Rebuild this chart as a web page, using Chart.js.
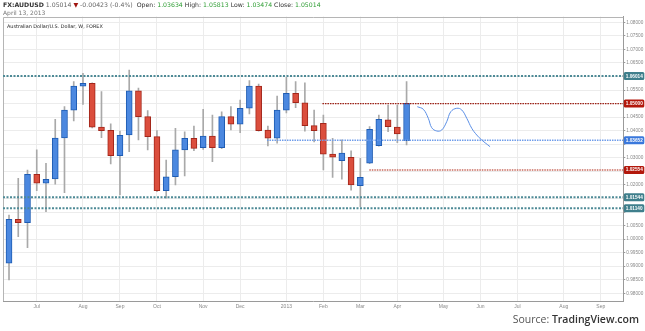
<!DOCTYPE html>
<html>
<head>
<meta charset="utf-8">
<script src="https://cdn.jsdelivr.net/npm/chart.js@4.4.0/dist/chart.umd.min.js"></script>
<style>
  body { margin: 0; background: #fff; overflow: hidden; }
  #wrap { position: relative; width: 645px; height: 331px; }
  #chart { position: absolute; left: 0; top: 0; }
  .txt { position: absolute; white-space: nowrap; font-family: 'DejaVu Sans', sans-serif; }
  #hdr { left: 3px; top: 1px; font-size: 6.2px; color: #666; }
  #hdr b { color: #333; }
  #hdr .g { color: #2f9e34; }
  #hdr .r { color: #a0150f; }
  #hdr .k { color: #333; }
  #date { left: 3px; top: 8.5px; font-size: 6px; color: #777; }
  #legend { left: 7px; top: 22.5px; font-size: 4.9px; color: #222; }
  #source { right: 6px; top: 312px; font-family: 'Open Sans', sans-serif; font-size: 10.5px; color: #555; }
  #source span { color: #333; font-weight: 600; }
</style>
</head>
<body>
<div id="wrap">
  <canvas id="chart" width="645" height="331"></canvas>
  <div class="txt" id="hdr"><b>FX:AUDUSD</b> 1.05014 <span class="r">▼</span> -0.00423 (-0.4%) &nbsp;<span class="k">Open:</span> <span class="g">1.03634</span> <span class="k">High:</span> <span class="g">1.05813</span> <span class="k">Low:</span> <span class="g">1.03474</span> <span class="k">Close:</span> <span class="g">1.05014</span></div>
  <div class="txt" id="date">April 13, 2013</div>
  <div class="txt" id="legend">Australian Dollar/U.S. Dollar, W, FOREX</div>
  <div class="txt" id="source">Source: <span>TradingView.com</span></div>
</div>
<script>
// weekly candles, week 0 = 11 Jun 2012, last = 8 Apr 2013
const opens  = [0.9911, 1.0073, 1.0061, 1.0239, 1.0206, 1.0222, 1.0373, 1.0476, 1.0564, 1.0575,
                1.0413, 1.0401, 1.0308, 1.0384, 1.0547, 1.0452, 1.0378, 1.0179, 1.0230, 1.0329,
                1.0372, 1.0337, 1.0380, 1.0337, 1.0452, 1.0424, 1.0483, 1.0565, 1.0402, 1.0372,
                1.0476, 1.0538, 1.0503, 1.0419, 1.0427, 1.0314, 1.0289, 1.0302, 1.0197, 1.0280,
                1.0345, 1.0440, 1.0413, 1.03634]
const highs  = [1.0089, 1.0224, 1.0255, 1.0329, 1.0280, 1.0442, 1.0489, 1.0581, 1.0612, 1.0577,
                1.0544, 1.0425, 1.0399, 1.0624, 1.0557, 1.0474, 1.0400, 1.0292, 1.0409, 1.0396,
                1.0417, 1.0479, 1.0458, 1.0470, 1.0489, 1.0513, 1.0585, 1.0572, 1.0417, 1.0528,
                1.0597, 1.0581, 1.0577, 1.0476, 1.0458, 1.0372, 1.0366, 1.0326, 1.0298, 1.0415,
                1.0458, 1.0495, 1.0495, 1.05813]
const lows   = [0.9849, 1.0009, 0.9968, 1.0179, 1.0101, 1.0203, 1.0171, 1.0436, 1.0497, 1.0410,
                1.0374, 1.0277, 1.0163, 1.0323, 1.0366, 1.0329, 1.0175, 1.0151, 1.0200, 1.0233,
                1.0326, 1.0331, 1.0286, 1.0334, 1.0403, 1.0393, 1.0462, 1.0398, 1.0344, 1.0354,
                1.0466, 1.0485, 1.0398, 1.0359, 1.0255, 1.0228, 1.0221, 1.0181, 1.0120, 1.0278,
                1.0343, 1.0396, 1.0356, 1.03474]
const closes = [1.0073, 1.0061, 1.0239, 1.0206, 1.0221, 1.0373, 1.0476, 1.0565, 1.0575, 1.0413,
                1.0400, 1.0308, 1.0383, 1.0547, 1.0452, 1.0378, 1.0179, 1.0230, 1.0329, 1.0372,
                1.0335, 1.0380, 1.0337, 1.0452, 1.0424, 1.0483, 1.0565, 1.0400, 1.0372, 1.0476,
                1.0538, 1.0503, 1.0419, 1.0400, 1.0313, 1.0302, 1.0317, 1.0200, 1.0228, 1.0405,
                1.0442, 1.0415, 1.0388, 1.05014]

// hand-drawn projection after the last candle
const projX = [44.16, 44.81, 45.35, 45.72, 46.26, 46.80, 47.34, 47.78, 48.42, 48.97, 49.51, 50.05, 50.59, 51.13, 52.03]
const projY = [1.04886, 1.0479, 1.04458, 1.04111, 1.03989, 1.04026, 1.04332, 1.04701, 1.04827, 1.04764,
               1.04458, 1.04089, 1.03841, 1.03657, 1.0341]

// horizontal levels and the week they start from
const levelValues = [1.06014, 1.05000, 1.03652, 1.02554, 1.01544, 1.01140]
const levelStarts = [-0.65, 33.9, 27.9, 38.97, -0.65, -0.65]
const levelColors = ['#4e8a96', '#9c1d12', '#6e9cea', '#c86a5e', '#4e8a96', '#4e8a96']
const levelBoxes  = ['#3f7f8c', '#b3180c', '#3a78dc', '#b3180c', '#3f7f8c', '#3f7f8c']
const levelWidths = [2, 1.3, 1.5, 1.5, 2, 2]
const levelDashes = [[2, 1.5], [1.5, 1], [1.5, 1], [1.5, 1], [2, 1.5], [2, 1.5]]

const monthTicks  = [3, 8, 12, 16, 21, 25, 30, 34, 38, 42, 47, 51, 55, 60, 64]
const monthLabels = ['Jul', 'Aug', 'Sep', 'Oct', 'Nov', 'Dec', '2013', 'Feb', 'Mar', 'Apr', 'May', 'Jun', 'Jul', 'Aug', 'Sep']
const yTicks = [0.980, 0.985, 0.990, 0.995, 1.000, 1.005, 1.010, 1.015, 1.020, 1.025, 1.030,
                1.035, 1.040, 1.045, 1.050, 1.055, 1.060, 1.065, 1.070, 1.075, 1.080]

const xMin = -0.65
const xMax = 66.44

const isUp = closes.map((c, i) => c >= opens[i])
const bodyColors = isUp.map(u => u ? '#4b88e0' : '#db4e3d')
const bodyBorders = isUp.map(u => u ? '#1e5cb3' : '#a3261a')

const levelSets = levelValues.map((v, i) => ({
  type: 'line',
  label: 'level ' + v,
  data: [{x: levelStarts[i], y: v}, {x: xMax, y: v}],
  borderColor: levelColors[i],
  borderWidth: levelWidths[i],
  borderDash: levelDashes[i],
  pointRadius: 0,
  order: 1
}))

const framePlugin = {
  id: 'frame',
  beforeDatasetsDraw(chart) {
    const {ctx, chartArea: a} = chart
    ctx.save()
    ctx.strokeStyle = '#b5b5b5'
    ctx.lineWidth = 1
    ctx.beginPath()
    ctx.moveTo(Math.round(a.left) + 0.5, a.bottom)
    ctx.lineTo(Math.round(a.left) + 0.5, Math.round(a.top) + 0.5)
    ctx.lineTo(a.right, Math.round(a.top) + 0.5)
    ctx.stroke()
    ctx.restore()
  }
}

const levelLabelPlugin = {
  id: 'levelLabels',
  afterDraw(chart) {
    const {ctx, chartArea: a} = chart
    const y = chart.scales.y
    ctx.save()
    ctx.font = 'bold 4.7px "Liberation Sans", sans-serif'
    ctx.textBaseline = 'middle'
    levelValues.forEach((v, i) => {
      const py = y.getPixelForValue(v)
      ctx.fillStyle = levelBoxes[i]
      ctx.beginPath()
      ctx.roundRect(a.right + 0.5, py - 4, 20.5, 8, 1.5)
      ctx.fill()
      ctx.fillStyle = '#fff'
      ctx.fillText(v.toFixed(5), a.right + 2.5, py + 0.3)
    })
    ctx.restore()
  }
}

new Chart(document.getElementById('chart'), {
  type: 'bar',
  data: {
    datasets: [
      {
        type: 'line',
        label: 'projection',
        data: projX.map((x, i) => ({x: x, y: projY[i]})),
        borderColor: '#5b8fe6',
        borderWidth: 1,
        tension: 0.4,
        pointRadius: 0,
        order: 0
      },
      ...levelSets,
      {
        label: 'body',
        data: opens.map((o, i) => ({x: i, y: [o, closes[i]]})),
        backgroundColor: bodyColors,
        borderColor: bodyBorders,
        borderWidth: 1,
        borderSkipped: false,
        barThickness: 6,
        grouped: false,
        order: 2
      },
      {
        label: 'wick',
        data: lows.map((l, i) => ({x: i, y: [l, highs[i]]})),
        backgroundColor: '#a9a9a9',
        barThickness: 1,
        grouped: false,
        order: 3
      }
    ]
  },
  options: {
    responsive: false,
    animation: false,
    devicePixelRatio: 1,
    layout: {padding: {top: 16.5, left: 3, right: 0, bottom: 0}},
    plugins: {legend: {display: false}, tooltip: {enabled: false}},
    scales: {
      x: {
        type: 'linear',
        min: xMin,
        max: xMax,
        offset: false,
        grid: {offset: false, color: '#ececec', drawTicks: false},
        border: {color: '#9a9a9a'},
        afterBuildTicks: s => { s.ticks = monthTicks.map(v => ({value: v})) },
        afterFit: s => { s.height = 30 },
        ticks: {
          callback: (v, i) => monthLabels[i],
          font: {size: 5, family: '"Liberation Sans", sans-serif'},
          color: '#888',
          padding: 3,
          maxRotation: 0,
          autoSkip: false
        }
      },
      y: {
        position: 'right',
        min: 0.97716,
        max: 1.08214,
        beginAtZero: false,
        grid: {color: '#ececec', tickLength: 2, tickColor: '#9a9a9a'},
        border: {color: '#9a9a9a'},
        afterBuildTicks: s => { s.ticks = yTicks.map(v => ({value: v})) },
        afterFit: s => { s.width = 21.7 },
        ticks: {
          callback: v => levelValues.some(l => Math.abs(l - v) < 0.002) ? '' : v.toFixed(5),
          font: {size: 4.7, family: '"Liberation Sans", sans-serif'},
          color: '#888',
          padding: 1,
          autoSkip: false
        }
      }
    }
  },
  plugins: [framePlugin, levelLabelPlugin]
})
</script>
</body>
</html>
